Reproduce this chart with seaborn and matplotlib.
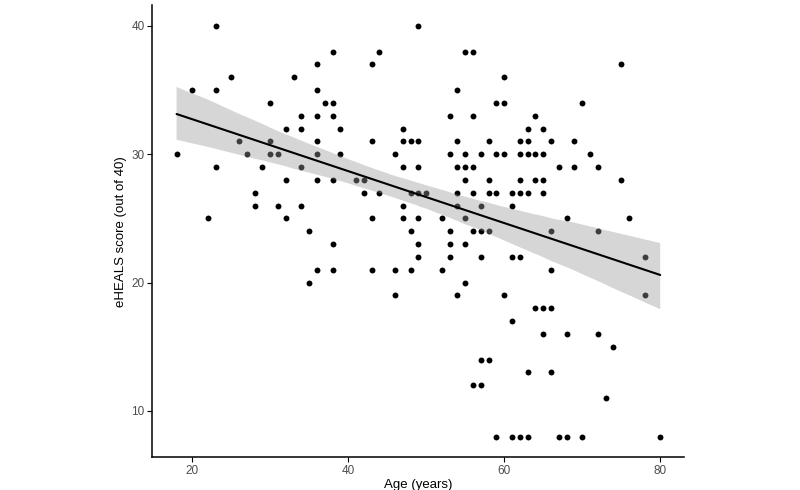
import pandas as pd
import seaborn as sns
import matplotlib.pyplot as plt
from matplotlib.collections import PolyCollection

sns.set_style('white')
plt.rcParams['font.family'] = ['Liberation Sans', 'DejaVu Sans']

# age (years) and eHEALS score
age = [23, 18, 20, 23, 25, 30, 33, 36, 36, 37, 34, 36, 32, 34, 26, 30, 36, 27, 30, 31, 36, 23, 29, 34,
       32, 36, 28, 28, 31, 34, 22, 32, 35, 36, 35,
       49, 38, 44, 43, 55, 56, 54, 38, 59, 38, 53, 56, 39, 47, 43, 47, 48, 49, 54, 58, 39, 46, 53, 55, 57, 59,
       47, 49, 54, 55, 56,
       38, 41, 42, 55, 58, 42, 44, 48, 49, 50, 54, 56, 58, 59, 47, 54, 57, 43, 47, 49, 52, 55, 48, 53, 56, 57,
       58, 38, 49, 53, 55, 49, 53, 57, 38, 43, 46, 48, 52, 55, 46, 54,
       75, 60, 60, 70, 64, 63, 65, 62, 63, 66, 69, 60, 62, 63, 64, 65, 71, 67, 69, 72,
       62, 64, 65, 75, 61, 62, 63, 65, 61, 68, 76, 66, 72, 61, 62, 78, 66, 60, 78, 64, 65, 66,
       61, 65, 68, 72, 74, 57, 58, 63, 66, 73, 56, 57, 59, 61, 62, 63, 67, 68, 70, 80]
score = [40, 30, 35, 35, 36, 34, 36, 37, 35, 34, 33, 33, 32, 32, 31, 31, 31, 30, 30, 30, 30, 29, 29, 29,
         28, 28, 27, 26, 26, 26, 25, 25, 24, 21, 20,
         40, 38, 38, 37, 38, 38, 35, 34, 34, 33, 33, 33, 32, 32, 31, 31, 31, 31, 31, 31, 30, 30, 30, 30, 30, 30,
         29, 29, 29, 29, 29,
         28, 28, 28, 28, 28, 27, 27, 27, 27, 27, 27, 27, 27, 27, 26, 26, 26, 25, 25, 25, 25, 25, 24, 24, 24, 24,
         24, 23, 23, 23, 23, 22, 22, 22, 21, 21, 21, 21, 21, 20, 19, 19,
         37, 36, 34, 34, 33, 32, 32, 31, 31, 31, 31, 30, 30, 30, 30, 30, 30, 29, 29, 29,
         28, 28, 28, 28, 27, 27, 27, 27, 26, 25, 25, 24, 24, 22, 22, 22, 21, 19, 19, 18, 18, 18,
         17, 16, 16, 16, 15, 14, 14, 13, 13, 11, 12, 12, 8, 8, 8, 8, 8, 8, 8, 8]

df = pd.DataFrame({"Age": age, "eHEALS": score})

fig = plt.figure(figsize=(8, 4.9), dpi=100)
ax = fig.add_axes([0.1905, 0.067, 0.665, 0.922])

sns.regplot(x="Age", y="eHEALS", data=df, ax=ax, ci=95, color="black",
            scatter_kws={"s": 18, "linewidths": 0, "alpha": 1},
            line_kws={"color": "black", "linewidth": 1.5})

# grey confidence band like ggplot
for c in ax.collections:
    if isinstance(c, PolyCollection):
        c.set_facecolor("#999999")
        c.set_alpha(0.4)
        c.set_edgecolor("none")

ax.set_xlim(14.9, 83.1)
ax.set_ylim(6.4, 41.6)
ax.set_xticks([20, 40, 60, 80])
ax.set_yticks([10, 20, 30, 40])
ax.set_xlabel("Age (years)", fontsize=9.5, color="black", labelpad=1.5)
ax.set_ylabel("eHEALS score (out of 40)", fontsize=9.5, color="black", labelpad=3)
ax.tick_params(axis="both", labelsize=8.5, labelcolor="#4d4d4d", length=3.5, width=0.8,
               color="black", direction="out", bottom=True, left=True, pad=2)
for side in ["top", "right"]:
    ax.spines[side].set_visible(False)
for side in ["left", "bottom"]:
    ax.spines[side].set_color("black")
    ax.spines[side].set_linewidth(1.1)

fig.savefig("out.png", dpi=100)
